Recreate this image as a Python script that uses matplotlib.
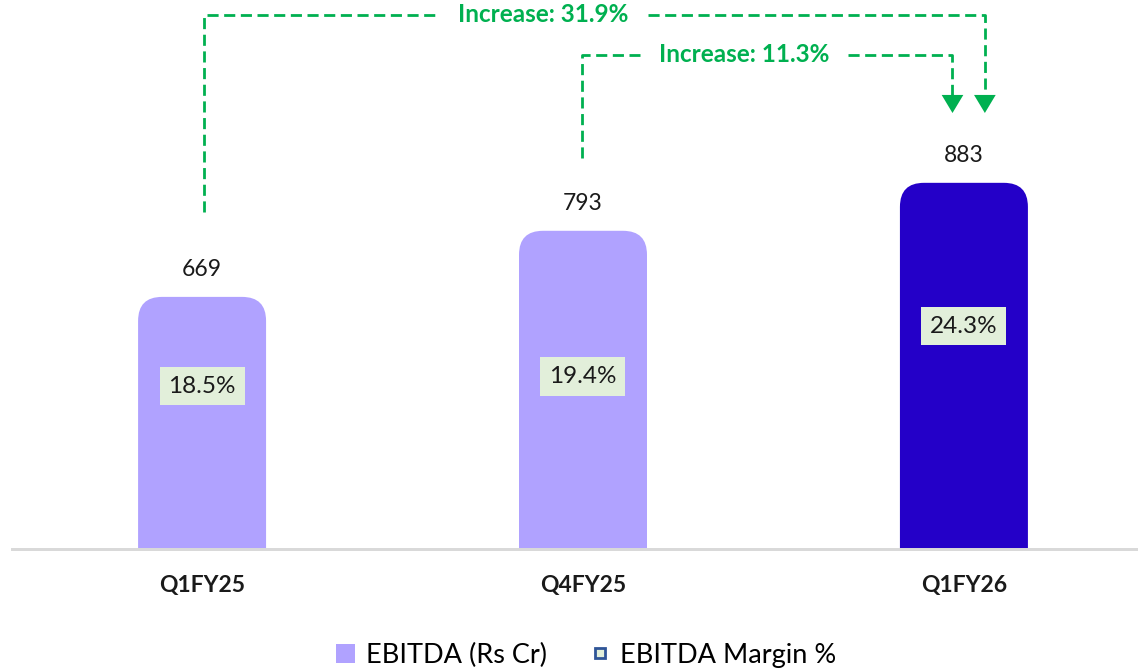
import matplotlib.pyplot as plt
from matplotlib.patches import FancyBboxPatch, Patch
from matplotlib.lines import Line2D

plt.rcParams['font.family'] = ['Lato', 'DejaVu Sans']

# data
quarters = ['Q1FY25', 'Q4FY25', 'Q1FY26']
ebitda = [669, 793, 883]
margin = [18.5, 19.4, 24.3]
bar_colors = ['#B0A2FF', '#B0A2FF', '#2400C8']
increase_labels = ['Increase: 31.9%', 'Increase: 11.3%']

green = '#00B050'

fig = plt.figure(figsize=(11.38, 6.70), dpi=100)
ax = fig.add_axes([12 / 1138, 121 / 670, 1 - 12 / 1138, 549 / 670])
ax2 = ax.twinx()

x = list(range(len(quarters)))
ax.set_xlim(-0.499, 2.457)
ax.set_ylim(196, 1226)
ax2.set_ylim(2.74, 55.83)

bars = ax.bar(x, ebitda, width=0.336, color=bar_colors)

# rounded tops
fig.canvas.draw()
bb = ax.get_window_extent()
px_x = bb.width / (ax.get_xlim()[1] - ax.get_xlim()[0])
px_y = bb.height / (ax.get_ylim()[1] - ax.get_ylim()[0])
asp = px_x / px_y
r = 24 / px_x
for b in bars:
    b.set_visible(False)
    p = FancyBboxPatch((b.get_x(), b.get_y()), b.get_width(), b.get_height(),
                       boxstyle=f"round,pad=0,rounding_size={r}",
                       mutation_aspect=asp, facecolor=b.get_facecolor(),
                       edgecolor='none')
    ax.add_patch(p)

for xi, v in zip(x, ebitda):
    ax.annotate(str(v), (xi, v), xytext=(0, 12), textcoords='offset points',
                ha='center', va='bottom', fontsize=16.5, color='#1a1a1a')

for xi, m in zip(x, margin):
    ax2.text(xi, m, f'{m}%', ha='center', va='center', fontsize=17.5, color='#1a1a1a',
             bbox=dict(boxstyle='square,pad=0.36', facecolor='#E2EFDA', edgecolor='none'))

# increase arrows
def bracket(x0, x1, y0, top, tip, label, g0, g1):
    kw = dict(color=green, lw=2, ls=(0, (4, 2)))
    ax.plot([x0, x0, g0], [y0, top, top], **kw)
    ax.plot([g1, x1, x1], [top, top, tip + 25], **kw)
    ax.annotate('', xy=(x1, tip), xytext=(x1, tip + 32),
                arrowprops=dict(arrowstyle='-|>,head_length=1.0,head_width=0.6',
                                mutation_scale=13, color=green, lw=0,
                                shrinkA=0, shrinkB=0))
    ax.text((g0 + g1) / 2, top, label, ha='center', va='center', fontsize=17.5,
            fontweight='bold', color=green)

bracket(0.005, 2.055, ebitda[0] + 159, 1198, ebitda[2] + 131, increase_labels[0], 0.619, 1.171)
bracket(0.997, 1.97, ebitda[1] + 137, 1123, ebitda[2] + 131, increase_labels[1], 1.15, 1.696)

ax.set_xticks(x)
ax.set_xticklabels(quarters, fontsize=16.5, fontweight='bold', color='#1a1a1a')
ax.tick_params(axis='x', length=0, pad=19)
ax.set_yticks([])
ax2.set_yticks([])
for a in (ax, ax2):
    for s in ['top', 'left', 'right']:
        a.spines[s].set_visible(False)
    a.spines['bottom'].set_color('#D9D9D9')
    a.spines['bottom'].set_linewidth(2)

handles = [Patch(facecolor='#B0A2FF', edgecolor='none'),
           Line2D([], [], marker='s', ls='none', markersize=7,
                  markerfacecolor='#E2EFDA', markeredgecolor='#2F5597', markeredgewidth=2)]
fig.legend(handles, ['EBITDA (Rs Cr)', 'EBITDA Margin %'], loc='center',
           bbox_to_anchor=(0.515, 15 / 670), ncol=2, frameon=False, fontsize=19.5,
           handlelength=0.7, handleheight=0.7, handletextpad=0.4, columnspacing=1.6)

fig.savefig('out.png', dpi=100)
